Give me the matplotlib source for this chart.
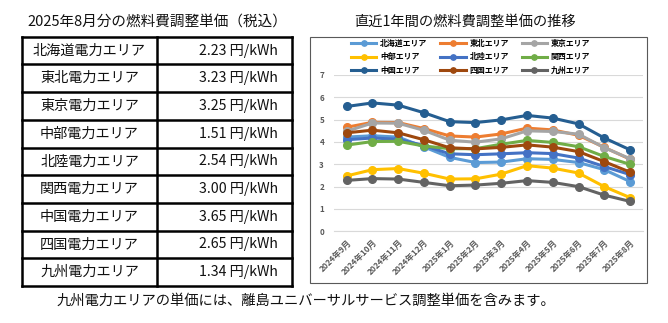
import matplotlib
matplotlib.use('Agg')
import matplotlib.pyplot as plt
from matplotlib.patches import Rectangle

plt.rcParams['font.family'] = ['Noto Sans CJK JP', 'DejaVu Sans']

# ---------------- data ----------------
months = ['2024年9月', '2024年10月', '2024年11月', '2024年12月', '2025年1月', '2025年2月',
          '2025年3月', '2025年4月', '2025年5月', '2025年6月', '2025年7月', '2025年8月']
areas = ['北海道', '東北', '東京', '中部', '北陸', '関西', '中国', '四国', '九州']

hokkaido = [4.22, 4.28, 4.22, 3.78, 3.31, 3.08, 3.10, 3.25, 3.22, 3.08, 2.76, 2.23]
tohoku   = [4.66, 4.88, 4.87, 4.60, 4.27, 4.22, 4.36, 4.62, 4.54, 4.30, 3.76, 3.23]
tokyo    = [4.48, 4.85, 4.84, 4.52, 4.08, 3.99, 4.14, 4.50, 4.47, 4.35, 3.75, 3.25]
chubu    = [2.48, 2.76, 2.81, 2.60, 2.34, 2.35, 2.56, 2.94, 2.83, 2.61, 2.00, 1.51]
hokuriku = [4.10, 4.18, 4.12, 3.84, 3.47, 3.43, 3.47, 3.52, 3.48, 3.28, 2.90, 2.54]
kansai   = [3.86, 4.02, 4.03, 3.82, 3.70, 3.70, 3.90, 4.07, 3.98, 3.79, 3.35, 3.00]
chugoku  = [5.59, 5.75, 5.65, 5.31, 4.91, 4.87, 4.99, 5.19, 5.07, 4.81, 4.18, 3.65]
shikoku  = [4.41, 4.53, 4.41, 4.10, 3.74, 3.69, 3.76, 3.87, 3.77, 3.57, 3.12, 2.65]
kyushu   = [2.28, 2.36, 2.34, 2.19, 2.04, 2.07, 2.15, 2.27, 2.19, 2.00, 1.62, 1.34]

series = [hokkaido, tohoku, tokyo, chubu, hokuriku, kansai, chugoku, shikoku, kyushu]
colors = ['#5B9BD5', '#ED7D31', '#A5A5A5', '#FFC000', '#4472C4', '#70AD47',
          '#255E91', '#9E480E', '#636363']

table_title = '2025年8月分の燃料費調整単価（税込）'
chart_title = '直近1年間の燃料費調整単価の推移'
footnote = '九州電力エリアの単価には、離島ユニバーサルサービス調整単価を含みます。'

# ---------------- figure ----------------
W, H = 668, 323
fig = plt.figure(figsize=(W / 100, H / 100), dpi=100)


def fx(x):
    return x / W


def fy(y):
    return 1 - y / H


bg = fig.add_axes([0, 0, 1, 1])
bg.set_xlim(0, W)
bg.set_ylim(H, 0)
bg.axis('off')

# table
x0, x1, x2 = 22, 157, 292
ytop, rowh = 36.7, 27.7
nrow = len(areas)
for i in range(nrow + 1):
    y = ytop + i * rowh
    bg.plot([x0, x2], [y, y], color='black', lw=1.8, solid_capstyle='projecting')
for x in (x0, x1, x2):
    bg.plot([x, x], [ytop, ytop + nrow * rowh], color='black', lw=1.8,
            solid_capstyle='projecting')
for i, (a, s) in enumerate(zip(areas, series)):
    yc = ytop + (i + 0.5) * rowh
    bg.text((x0 + x1) / 2, yc, a + '電力エリア', ha='center', va='center',
            fontsize=10.2, color='#111111')
    bg.text(278, yc, f'{s[-1]:.2f} 円/kWh', ha='right', va='center',
            fontsize=10.2, color='#111111')

bg.text((x0 + x2) / 2 + 0, 22, table_title, ha='center', va='center',
        fontsize=10.5, color='#111111')
bg.text(465, 22, chart_title, ha='center', va='center', fontsize=10.3,
        color='#111111')
bg.text(306, 300.5, footnote, ha='center', va='center', fontsize=10.3,
        color='#111111')

# chart box
bg.add_patch(Rectangle((310, 37), 336.7, 246, fill=False, edgecolor='#595959',
                       lw=0.8))

# line chart
ax = fig.add_axes([fx(333.8), fy(231.3), (642.9 - 333.8) / W, (231.3 - 75) / H])
ax.patch.set_alpha(0)
xs = list(range(len(months)))
for a, s, c in zip(areas, series, colors):
    ax.plot(xs, s, color=c, lw=2.2, marker='o', ms=5.5, label=a + 'エリア')
ax.set_xlim(-0.5, len(months) - 0.5)
ax.set_ylim(0, 7)
ax.set_yticks(range(0, 8))
ax.grid(axis='y', color='#D9D9D9', lw=0.8)
ax.set_axisbelow(True)
for sp in ('left', 'right', 'top'):
    ax.spines[sp].set_visible(False)
ax.spines['bottom'].set_color('#D9D9D9')
ax.tick_params(axis='y', length=0, labelsize=5.8, colors='#595959', pad=7)
ax.tick_params(axis='x', length=0, colors='#595959', pad=5)
ax.set_xticks(xs)
ax.set_xticklabels(months, rotation=45, ha='right', rotation_mode='anchor',
                   fontsize=6.0, fontweight='bold')
for t in ax.get_yticklabels():
    t.set_fontweight('bold')

handles, labels = ax.get_legend_handles_labels()
order = [0, 3, 6, 1, 4, 7, 2, 5, 8]
fig.legend([handles[i] for i in order], [labels[i] for i in order],
           loc='upper left', bbox_to_anchor=(fx(351), fy(39.0)), ncol=3,
           frameon=False, prop={'size': 5.7, 'weight': 'bold'},
           handlelength=3.2, handletextpad=0.5, columnspacing=1.6,
           labelspacing=0.55, borderpad=0, borderaxespad=0, markerscale=0.7)

fig.savefig('out.png', dpi=100)
